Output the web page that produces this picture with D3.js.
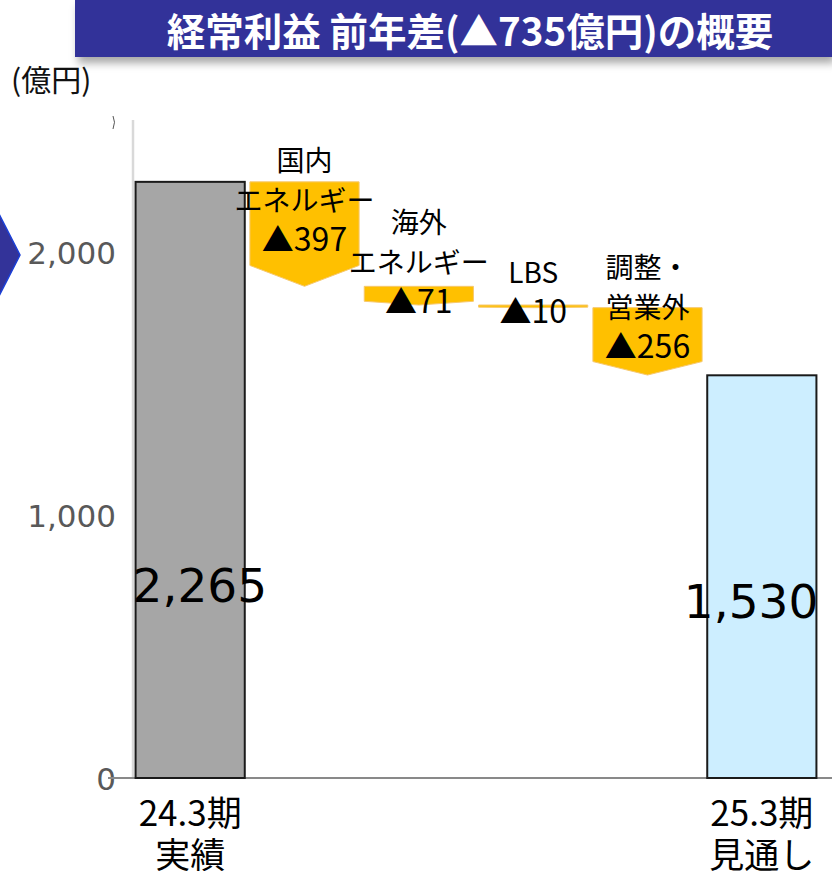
<!DOCTYPE html>
<html><head><meta charset="utf-8">
<script src="https://cdn.jsdelivr.net/npm/d3@7"></script>
<style>body{margin:0;background:#fff}svg{display:block}</style>
</head><body>
<script>
const title = "経常利益 前年差(▲735億円)の概要";
const unitLabel = "(億円)";
const categories = ["24.3期\n実績", "国内\nエネルギー", "海外\nエネルギー", "LBS", "調整・\n営業外", "25.3期\n見通し"];
const values = [2265, -397, -71, -10, -256, 1530];
const kinds = ["total", "delta", "delta", "delta", "delta", "total"];
const valueLabels = ["2,265", "▲397", "▲71", "▲10", "▲256", "1,530"];
const yTicks = [0, 1000, 2000];

const W = 832, H = 871;
const svg = d3.select("body").append("svg").attr("width", W).attr("height", H);
const defs = svg.append("defs");
const f = defs.append("filter").attr("id","sh").attr("x","-5%").attr("y","-30%").attr("width","110%").attr("height","180%");
f.append("feDropShadow").attr("dx",3).attr("dy",6).attr("stdDeviation",4).attr("flood-color","#000").attr("flood-opacity",0.35);

// title banner
svg.append("rect").attr("x",75).attr("y",0).attr("width",W-75).attr("height",57).attr("fill","#333399").attr("filter","url(#sh)");
svg.append("text").attr("x",470).attr("y",29).attr("text-anchor","middle").attr("dominant-baseline","central")
  .attr("fill","#fff").attr("font-family","'Noto Sans CJK JP'").attr("font-weight","bold").attr("font-size",38.5).text(title);

svg.append("text").attr("x",11).attr("y",78).attr("dominant-baseline","central")
  .attr("font-family","'Noto Sans CJK JP'").attr("font-size",30).attr("fill","#111").text(unitLabel);

// left chevron
svg.append("path").attr("d","M-2,212 L20,255 L-2,298 Z").attr("fill","#333399").attr("stroke","#1a3fd6").attr("stroke-width",1.5);

const y = d3.scaleLinear().domain([0,2500]).range([778,120]);
const x = d3.scaleBand().domain(categories).range([133,819]).padding(0);
const bw = x.bandwidth()*0.955;

// axis
svg.append("line").attr("x1",133).attr("x2",133).attr("y1",y(2500)).attr("y2",y(0)).attr("stroke","#d9d9d9").attr("stroke-width",2.5);
svg.append("path").attr("d","M113,116 Q116,122 113,129").attr("fill","none").attr("stroke","#555").attr("stroke-width",1);
const yAxis = d3.axisLeft(y).tickValues(yTicks).tickFormat(d3.format(",")).tickSize(0).tickPadding(0);
const ga = svg.append("g").attr("transform","translate(116,0)").call(yAxis);
ga.select(".domain").remove();
ga.selectAll("text").attr("font-family","'DejaVu Sans'").attr("font-size",31).attr("fill","#595959").attr("dy","0.38em");

// running totals
let run = 0;
const bars = categories.map((c,i)=>{
  if (kinds[i]==="total") { run = values[i]; return {c, i, start:0, end:values[i], kind:"total"}; }
  const s = run; run += values[i]; return {c, i, start:s, end:run, kind:"delta"};
});

// zero line
svg.append("line").attr("x1",108).attr("x2",W).attr("y1",y(0)).attr("y2",y(0)).attr("stroke","#898989").attr("stroke-width",2);

const totalFill = ["#a6a6a6", "#cdeeff"];
const totalLabelY = [585, 601];
let ti = 0;
bars.forEach(b=>{
  const cx = x(b.c) + x.bandwidth()/2;
  const x0 = cx - bw/2, x1 = cx + bw/2;
  if (b.kind==="total") {
    svg.append("rect").attr("x",x0).attr("y",y(b.end)).attr("width",bw).attr("height",y(0)-y(b.end))
      .attr("fill",totalFill[ti]).attr("stroke","#1a1a1a").attr("stroke-width",2);
    const left = ti===0;
    svg.append("text").attr("x",left ? x0-3 : x1+2).attr("y",totalLabelY[ti]).attr("text-anchor",left?"start":"end").attr("dominant-baseline","central")
      .attr("font-family","'DejaVu Sans'").attr("font-size",47).attr("fill","#000").text(valueLabels[b.i]);
    ti++;
  } else {
    const yt = y(b.start), yb = y(b.end), h = yb-yt, head = h*0.2;
    svg.append("path").attr("d",`M${x0},${yt} L${x1},${yt} L${x1},${yb-head} L${cx},${yb} L${x0},${yb-head} Z`)
      .attr("fill","#ffc000").attr("stroke","#f6c86e").attr("stroke-width",1);
    const vy = (yt+yb)/2 + 3;
    svg.append("text").attr("x",cx).attr("y",vy).attr("text-anchor","middle").attr("dominant-baseline","central")
      .attr("font-family","'Noto Sans CJK JP'").attr("font-size",32).attr("fill","#000").text(valueLabels[b.i]);
    const lines = b.c.split("\n");
    lines.forEach((ln,k)=>{
      svg.append("text").attr("x",cx).attr("y",vy-38-(lines.length-1-k)*40).attr("text-anchor","middle").attr("dominant-baseline","central")
        .attr("font-family","'Noto Sans CJK JP'").attr("font-size",28).attr("fill","#000").text(ln);
    });
  }
});

// x labels for totals
bars.filter(b=>b.kind==="total").forEach(b=>{
  const cx = x(b.c) + x.bandwidth()/2;
  b.c.split("\n").forEach((ln,k)=>{
    svg.append("text").attr("x",cx).attr("y",810+k*42).attr("text-anchor","middle").attr("dominant-baseline","central")
      .attr("font-family","'Noto Sans CJK JP'").attr("font-size",35).attr("fill","#000").text(ln);
  });
});
</script>
</body></html>
